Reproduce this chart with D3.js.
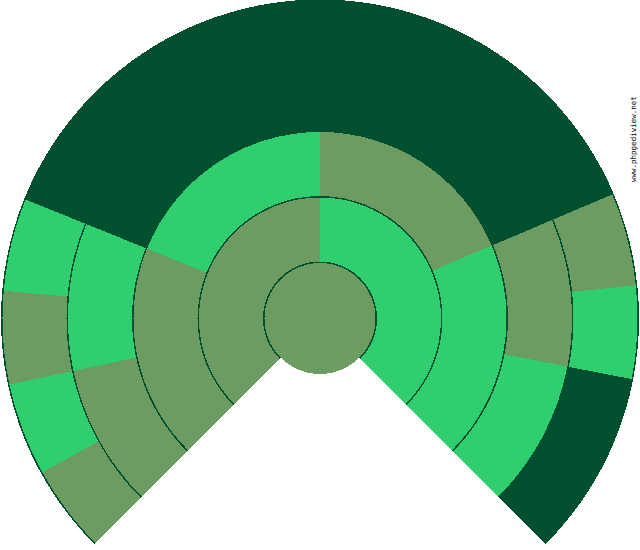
<!DOCTYPE html>
<html>
<head>
<meta charset="utf-8">
<script src="https://cdn.jsdelivr.net/npm/d3@7"></script>
<style>
  html, body { margin: 0; padding: 0; background: #ffffff; }
  svg { display: block; }
</style>
</head>
<body>
<svg id="chart" width="640" height="550"></svg>
<script>
// ---- Data: ancestors per generation, left to right (M = male, F = female, null = unknown)
const gen0 = ["M"];
const gen1 = ["M", "F"];
const gen2 = ["M", "F", "M", "F"];
const gen3 = ["M", "F", null, null, null, null, "M", "F"];
const gen4 = ["M", "F", "M", "F", null, null, null, null,
              null, null, null, null, "M", "F", null, null];
const generations = [gen0, gen1, gen2, gen3, gen4];
const watermark = "www.phpgediview.net";

// ---- Style
const colors = { M: "#6c9c62", F: "#2fcf70", background: "#005030" };
const fanDegrees = 270;
const cx = 320, cy = 318.5;
const rootRadius = 57, ringWidth = 65.5, gap = 1.5;

const svg = d3.select("#chart");
const g = svg.append("g").attr("transform", `translate(${cx},${cy})`);

// radius scale: generation index -> outer radius
const radius = d3.scaleLinear().domain([0, 1]).range([rootRadius, rootRadius + ringWidth]);
const toRad = d => d * Math.PI / 180;
const arc = d3.arc().innerRadius(0);

// GD-style angle: 0 = 3 o'clock, clockwise; fan ends at 360+(fan-180)/2
const gdEnd = 360 + (fanDegrees - 180) / 2;
const gdToD3 = a => a - 270; // d3: 0 = 12 o'clock, clockwise

for (let gi = generations.length - 1; gi >= 0; gi--) {
  const people = generations[gi];
  const rOuter = radius(gi);
  // clear generation area with the background colour
  g.append("path")
    .attr("d", arc({ outerRadius: rOuter,
                     startAngle: toRad(gdToD3(gdEnd - fanDegrees)),
                     endAngle: toRad(gdToD3(gdEnd)) }))
    .attr("fill", colors.background)
    .attr("shape-rendering", "crispEdges");

  const n = people.length;
  const step = fanDegrees / n;
  people.forEach((sex, i) => {
    if (!sex) return;
    let a1, a2;
    if (gi === 0) {
      a1 = 0; a2 = 360;
    } else {
      const k = n - 1 - i;
      const deg2 = Math.trunc(gdEnd - k * step);
      const deg1 = Math.trunc(gdEnd - (k + 1) * step);
      a1 = gdToD3(deg1); a2 = gdToD3(deg2);
    }
    g.append("path")
      .attr("d", arc({ outerRadius: rOuter - gap,
                       startAngle: toRad(a1), endAngle: toRad(a2) }))
      .attr("fill", colors[sex])
      .attr("shape-rendering", "crispEdges");
  });
}

// watermark
svg.append("text")
  .attr("transform", "translate(636,182) rotate(-90)")
  .attr("font-family", "DejaVu Sans Mono, monospace")
  .attr("font-size", 7.5)
  .attr("fill", "#000")
  .text(watermark);
</script>
</body>
</html>
